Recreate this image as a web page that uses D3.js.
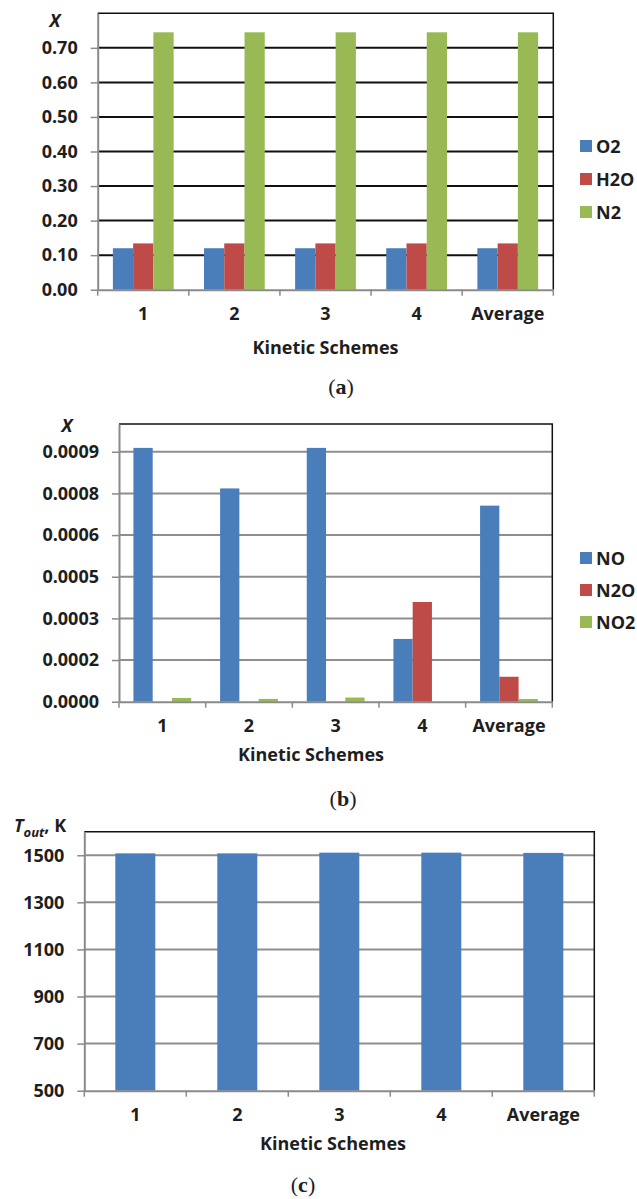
<!DOCTYPE html>
<html>
<head>
<meta charset="utf-8">
<script src="https://cdn.jsdelivr.net/npm/d3@7"></script>
<style>
  body { margin: 0; background: #fff; }
  svg { display: block; }
  text { font-family: "Open Sans", Lato, sans-serif; font-weight: 700; fill: #1e1e1e; }
  .caption { font-family: "Liberation Serif", "DejaVu Serif", serif; font-weight: 400; }
</style>
</head>
<body>
<div id="chart"></div>
<script>
// categories
var schemes = ["1", "2", "3", "4", "Average"];

// panel (a): major species mole fractions
var majorNames = ["O2", "H2O", "N2"];
var o2  = [0.120, 0.120, 0.120, 0.120, 0.120];
var h2o = [0.134, 0.134, 0.134, 0.134, 0.134];
var n2  = [0.745, 0.745, 0.745, 0.745, 0.745];
var ticksA = [0, 0.1, 0.2, 0.3, 0.4, 0.5, 0.6, 0.7];
var tickLabelsA = ["0.00", "0.10", "0.20", "0.30", "0.40", "0.50", "0.60", "0.70"];

// panel (b): nitrogen oxides mole fractions
var noxNames = ["NO", "N2O", "NO2"];
var no  = [0.000914, 0.000768, 0.000914, 0.000226, 0.000706];
var n2o = [0, 0, 0, 0.000359, 0.0000898];
var no2 = [0.0000133, 0.0000100, 0.0000150, 0, 0.0000096];
var ticksB = [0, 0.00015, 0.0003, 0.00045, 0.0006, 0.00075, 0.0009];
var tickLabelsB = ["0.0000", "0.0002", "0.0003", "0.0005", "0.0006", "0.0008", "0.0009"];

// panel (c): outlet temperature
var tempNames = ["Tout"];
var tOut = [1508, 1508, 1511, 1511, 1510];
var ticksC = [500, 700, 900, 1100, 1300, 1500];
var tickLabelsC = ["500", "700", "900", "1100", "1300", "1500"];

var colors = ["#4a7ebb", "#be4b48", "#98b954"];
var FONT = "18px";

var svg = d3.select("#chart")
    .append("svg")
    .attr("width", 637)
    .attr("height", 1199);

svg.append("rect")
    .attr("width", 637)
    .attr("height", 1199)
    .attr("fill", "#fff");

function styleText(sel) {
    sel.style("font-size", FONT)
        .style("font-family", "'Open Sans', Lato, sans-serif")
        .style("font-weight", 700)
        .attr("fill", "#1e1e1e");
}

function drawPanel(p) {
    var g = svg.append("g");

    var x0 = d3.scaleBand()
        .domain(schemes)
        .range([p.left, p.right]);
    var x1 = d3.scaleBand()
        .domain(p.names)
        .range([0, x0.bandwidth()])
        .paddingOuter(p.outer);
    var y = d3.scaleLinear()
        .domain(p.yDomain)
        .range([p.bottom, p.top]);

    // gridlines
    g.append("g")
        .selectAll("line")
        .data(p.ticks.filter(function(d) { return d !== p.yDomain[0]; }))
        .enter()
        .append("line")
        .attr("x1", p.left)
        .attr("x2", p.right)
        .attr("y1", function(d) { return y(d); })
        .attr("y2", function(d) { return y(d); })
        .attr("stroke", p.gridColor)
        .attr("stroke-width", p.gridWidth);

    // bars
    var rows = schemes.map(function(s, i) {
        return p.names.map(function(n, j) {
            return { scheme: s, name: n, value: p.series[j][i], k: j };
        });
    });
    g.append("g")
        .selectAll("g")
        .data(rows)
        .enter()
        .append("g")
        .attr("transform", function(d) {
            return "translate(" + x0(d[0].scheme) + ",0)";
        })
        .selectAll("rect")
        .data(function(d) { return d; })
        .enter()
        .append("rect")
        .attr("x", function(d) { return x1(d.name); })
        .attr("width", x1.bandwidth())
        .attr("y", function(d) { return y(d.value); })
        .attr("height", function(d) { return y(p.yDomain[0]) - y(d.value); })
        .attr("fill", function(d) { return colors[d.k]; });

    // plot border top and right
    g.append("path")
        .attr("d", "M" + p.left + "," + p.top + "H" + p.right + "V" + p.bottom)
        .attr("fill", "none")
        .attr("stroke", "#111")
        .attr("stroke-width", 1.5);

    // y axis
    var yAxis = d3.axisLeft(y)
        .tickValues(p.ticks)
        .tickSize(7)
        .tickSizeOuter(0)
        .tickPadding(13)
        .tickFormat(function(d, i) { return p.tickLabels[i]; });
    var ya = g.append("g")
        .attr("transform", "translate(" + p.left + ",0)")
        .call(yAxis);
    styleText(ya.selectAll("text"));
    ya.select(".domain").attr("stroke", "#8a8a8a").attr("stroke-width", 2);
    ya.selectAll(".tick line").attr("stroke", "#8a8a8a").attr("stroke-width", 1.5);

    // x axis: labels at band centres, ticks at band edges
    var xAxis = d3.axisBottom(x0)
        .tickSize(0)
        .tickSizeOuter(0)
        .tickPadding(18);
    var xa = g.append("g")
        .attr("transform", "translate(0," + p.bottom + ")")
        .call(xAxis);
    styleText(xa.selectAll("text"));
    xa.select(".domain").attr("stroke", "#8a8a8a").attr("stroke-width", 2);
    xa.selectAll(".edge")
        .data(schemes.map(function(s) { return x0(s); }).concat([p.right]))
        .enter()
        .append("line")
        .attr("class", "edge")
        .attr("x1", function(d) { return d; })
        .attr("x2", function(d) { return d; })
        .attr("y1", 0)
        .attr("y2", 6)
        .attr("stroke", "#8a8a8a")
        .attr("stroke-width", 1.5);

    // x title
    g.append("text")
        .attr("x", p.xTitleX)
        .attr("y", p.bottom + p.xTitleDy)
        .attr("text-anchor", "middle")
        .attr("dominant-baseline", "central")
        .style("font-size", FONT)
        .text("Kinetic Schemes");

    // caption
    var cap = g.append("text")
        .attr("class", "caption")
        .attr("x", p.capX)
        .attr("y", p.capY)
        .attr("text-anchor", "middle")
        .attr("dominant-baseline", "central")
        .style("font-size", "22px");
    cap.append("tspan").text("(");
    cap.append("tspan").style("font-weight", 700).text(p.letter);
    cap.append("tspan").text(")");

    // legend
    if (p.legendY) {
        var lg = g.append("g")
            .selectAll("g")
            .data(p.names)
            .enter()
            .append("g")
            .attr("transform", function(d, i) {
                return "translate(580," + p.legendY[i] + ")";
            });
        lg.append("rect")
            .attr("x", 0)
            .attr("y", -6)
            .attr("width", 12)
            .attr("height", 12)
            .attr("fill", function(d, i) { return colors[i]; });
        lg.append("text")
            .attr("x", 16)
            .attr("y", 0)
            .attr("dominant-baseline", "central")
            .style("font-size", FONT)
            .text(function(d) { return d; });
    }
    return g;
}

var gA = drawPanel({
    left: 97.7, right: 553.3, top: 13.3, bottom: 289.7,
    yDomain: [0, 0.8], ticks: ticksA, tickLabels: tickLabelsA,
    names: majorNames, series: [o2, h2o, n2], outer: 0.75,
    gridColor: "#111", gridWidth: 2,
    xTitleX: 325.5, xTitleDy: 57,
    capX: 341, capY: 386, letter: "a",
    legendY: [146, 179, 212]
});
gA.append("text")
    .attr("x", 55)
    .attr("y", 20)
    .attr("text-anchor", "middle")
    .attr("dominant-baseline", "central")
    .style("font-size", "18px")
    .style("font-style", "italic")
    .text("X");

var gB = drawPanel({
    left: 119, right: 552.3, top: 424, bottom: 701.7,
    yDomain: [0, 0.001], ticks: ticksB, tickLabels: tickLabelsB,
    names: noxNames, series: [no, n2o, no2], outer: 0.75,
    gridColor: "#8e8e8e", gridWidth: 2,
    xTitleX: 311, xTitleDy: 52,
    capX: 343, capY: 798, letter: "b",
    legendY: [558, 590, 622]
});
gB.append("text")
    .attr("x", 67)
    .attr("y", 425)
    .attr("text-anchor", "middle")
    .attr("dominant-baseline", "central")
    .style("font-size", "18px")
    .style("font-style", "italic")
    .text("X");

var gC = drawPanel({
    left: 84.3, right: 594.3, top: 831.7, bottom: 1090.7,
    yDomain: [500, 1600], ticks: ticksC, tickLabels: tickLabelsC,
    names: tempNames, series: [tOut], outer: 0.775,
    gridColor: "#8e8e8e", gridWidth: 2,
    xTitleX: 333, xTitleDy: 52,
    capX: 303, capY: 1184, letter: "c",
    legendY: null
});
var tt = gC.append("text")
    .attr("x", 14)
    .attr("y", 832)
    .style("font-size", FONT);
tt.append("tspan").style("font-style", "italic").text("T");
tt.append("tspan").attr("dy", 5).style("font-style", "italic").style("font-size", "13px").text("out");
tt.append("tspan").attr("dy", -5).text(", K");
</script>
</body>
</html>
